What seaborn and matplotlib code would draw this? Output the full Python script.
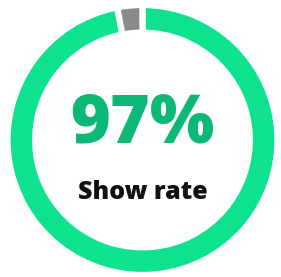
import matplotlib
matplotlib.use('Agg')
import matplotlib.pyplot as plt
import seaborn as sns

# chart data
labels = ['Show', 'No show']
values = [97, 3]
center_value = '97%'
center_label = 'Show rate'
ring_colors = ['#0ee28f', '#8a8a8a']

sns.set_theme(style='white')
plt.rcParams['font.family'] = ['Open Sans', 'DejaVu Sans']

W, H = 281, 277
fig = plt.figure(figsize=(W / 100, H / 100), dpi=100)
# outer radius ~135 px, centre at (142.5, 140) from top-left
r = 135
cx, cy = 142.5, H - 140
ax = fig.add_axes([(cx - r) / W, (cy - r) / H, 2 * r / W, 2 * r / H])

ax.pie(values, colors=ring_colors, startangle=90, counterclock=False,
       radius=1, wedgeprops=dict(width=0.205, edgecolor='white', linewidth=4.5))
ax.set_xlim(-1, 1)
ax.set_ylim(-1, 1)
ax.set_aspect('auto')
ax.axis('off')

ax.text(0, 0.11, center_value, ha='center', va='center',
        fontsize=49, fontweight='heavy', color='#0cb876')
ax.text(0, -0.39, center_label, ha='center', va='center',
        fontsize=18, fontweight='heavy', color='#111111')

fig.savefig('out.png', dpi=100)
plt.close(fig)
